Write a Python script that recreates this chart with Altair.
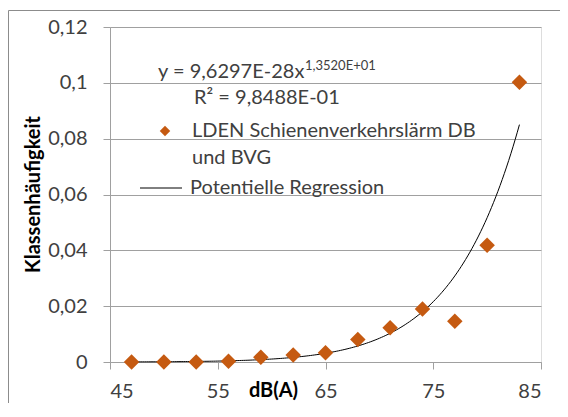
import altair as alt
import numpy as np
import pandas as pd

# ---- data ----
db_values = [47, 50, 53, 56, 59, 62, 65, 68, 71, 74, 77, 80, 83]
class_freq = [0.0, 0.0, 0.0, 0.0003, 0.0017, 0.0025, 0.0033, 0.0081, 0.0123, 0.0190, 0.0146, 0.0418, 0.1002]

# power regression shown in the chart: y = a * x^b
coef_a = 9.6297e-28
coef_b = 13.520

x_ticks = [45, 55, 65, 75, 85]
y_ticks = [0, 0.02, 0.04, 0.06, 0.08, 0.1, 0.12]

eq_main = "y = 9,6297E-28x"
eq_sup = "1,3520E+01"
r2_text = "R² = 9,8488E-01"
legend_points = ["LDEN Schienenverkehrslärm DB", "und BVG"]
legend_line = "Potentielle Regression"

FONT = "Lato"
TXT = "#404040"
ORANGE = "#C55A11"
GRID = "#a0a0a0"

pts = pd.DataFrame({"db": db_values, "freq": class_freq})
curve_x = np.linspace(min(db_values), max(db_values), 181)
curve = pd.DataFrame({"db": curve_x, "freq": coef_a * curve_x ** coef_b})

xscale = alt.Scale(domain=[45, 85], nice=False, zero=False)
yscale = alt.Scale(domain=[0, 0.12], nice=False)

xaxis = alt.Axis(values=x_ticks, grid=False, tickSize=7, labelPadding=22,
                 labelBaseline="middle", labelFontSize=20, labelFont=FONT, labelColor=TXT,
                 title="dB(A)", titleFont=FONT, titleFontSize=20, titleFontWeight="bold",
                 titleColor="#000000", titleX=163, titleY=28, titleBaseline="middle",
                 titleAlign="center", domainColor=GRID, tickColor=GRID)
yaxis = alt.Axis(values=y_ticks, grid=True, gridColor=GRID, tickSize=7, labelPadding=16,
                 labelFontSize=20, labelFont=FONT, labelColor=TXT,
                 labelExpr="replace(datum.value + '', '.', ',')",
                 title="Klassenhäufigkeit", titleFont=FONT, titleFontSize=20,
                 titleFontWeight="bold", titleColor="#000000", titleAngle=270,
                 titleX=-77, titleY=167, titleBaseline="middle", titleAlign="center",
                 domainColor=GRID, tickColor=GRID)

one = pd.DataFrame({"k": [0]})

border = alt.Chart(one).mark_rect(filled=False, stroke="#8c8c8c", strokeWidth=1).encode(
    x=alt.value(-101.5), x2=alt.value(700), y=alt.value(-16.5), y2=alt.value(600))

curve_layer = alt.Chart(curve).mark_line(color="#000000", strokeWidth=1).encode(
    x=alt.X("db:Q", scale=xscale, axis=xaxis),
    y=alt.Y("freq:Q", scale=yscale, axis=yaxis))

point_layer = alt.Chart(pts).mark_point(shape="diamond", filled=True, color=ORANGE,
                                        size=240, opacity=1).encode(
    x=alt.X("db:Q", scale=xscale),
    y=alt.Y("freq:Q", scale=yscale))


def label(text, x, y, size=20):
    return alt.Chart(pd.DataFrame({"t": [text]})).mark_text(
        align="left", baseline="alphabetic", font=FONT, fontSize=size, color=TXT
    ).encode(text="t:N", x=alt.value(x), y=alt.value(y))


eq1 = label(eq_main, 48, 51)
eq2 = label(eq_sup, 195, 43, size=13)
r2 = label(r2_text, 84, 77)
lg1 = label(legend_points[0], 82, 110)
lg2 = label(legend_points[1], 82, 137)
lg3 = label(legend_line, 80, 167)

leg_diamond = alt.Chart(one).mark_point(shape="diamond", filled=True, color=ORANGE,
                                        size=110, opacity=1).encode(
    x=alt.value(55), y=alt.value(104))
leg_rule = alt.Chart(one).mark_rule(color="#000000", strokeWidth=1).encode(
    x=alt.value(30), x2=alt.value(72), y=alt.value(161))

chart = alt.layer(
    border, curve_layer, point_layer, eq1, eq2, r2, leg_diamond, lg1, lg2, leg_rule, lg3
).properties(
    width=431, height=335,
    autosize=alt.AutoSizeParams(type="none"),
    padding={"left": 102, "top": 19, "right": 19, "bottom": 41},
).configure_view(stroke=None).configure(background="white")

chart.save("out.html", embed_options={"renderer": "svg", "actions": False})
